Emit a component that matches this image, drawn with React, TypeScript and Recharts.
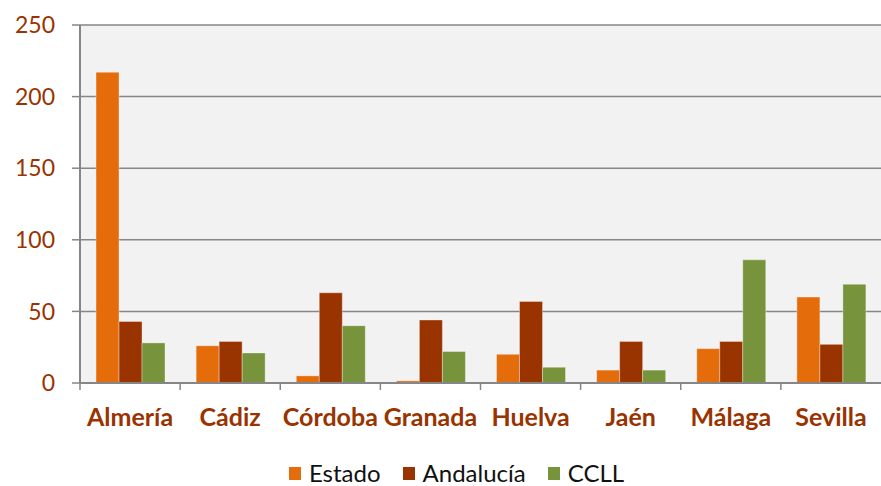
import {
  BarChart,
  Bar,
  XAxis,
  YAxis,
  CartesianGrid,
  Legend,
} from "recharts";

const provincias = ["Almería", "Cádiz", "Córdoba", "Granada", "Huelva", "Jaén", "Málaga", "Sevilla"];
const estado = [217, 26, 5, 1.5, 20, 9, 24, 60];
const andalucia = [43, 29, 63, 44, 57, 29, 29, 27];
const ccll = [28, 21, 40, 22, 11, 9, 86, 69];
const yTicks = [0, 50, 100, 150, 200, 250];

const series = [
  { key: "estado", name: "Estado", color: "#e46c0a" },
  { key: "andalucia", name: "Andalucía", color: "#993300" },
  { key: "ccll", name: "CCLL", color: "#77933c" },
];

const data = provincias.map((p, i) => ({
  name: p,
  estado: estado[i],
  andalucia: andalucia[i],
  ccll: ccll[i],
}));

const FONT = "Lato, 'Open Sans', sans-serif";
const AXIS_GRAY = "#868686";
const BAND = 801 / provincias.length;

function CategoryTick(props: any) {
  const { x, y, payload } = props;
  return (
    <g>
      <line x1={x - BAND / 2} y1={y} x2={x - BAND / 2} y2={y + 7} stroke={AXIS_GRAY} strokeWidth={1.5} />
      <text
        x={x}
        y={y + 43}
        textAnchor="middle"
        fill="#993300"
        fontFamily={FONT}
        fontWeight={700}
        fontSize={25}
      >
        {payload.value}
      </text>
    </g>
  );
}

function LegendBox() {
  return (
    <div
      style={{
        height: 30,
        boxSizing: "border-box",
        paddingTop: 4,
        display: "flex",
        justifyContent: "center",
        alignItems: "flex-start",
        fontFamily: FONT,
        fontSize: 24,
        lineHeight: "26px",
        color: "#111",
        gap: 22,
        paddingLeft: 32,
      }}
    >
      {series.map((s) => (
        <div key={s.key} style={{ display: "flex", alignItems: "center", gap: 8, height: 26 }}>
          <span style={{ width: 12, height: 13, background: s.color, display: "inline-block" }} />
          <span>{s.name}</span>
        </div>
      ))}
    </div>
  );
}

export default function App() {
  return (
    <div style={{ position: "absolute", left: 0, top: 0, background: "#fff" }}>
      <BarChart
        width={881}
        height={486}
        data={data}
        margin={{ top: 25, right: 0, left: 0, bottom: 0 }}
        barCategoryGap="16%"
        barGap={0}
      >
        <CartesianGrid vertical={false} fill="#f2f2f2" stroke={AXIS_GRAY} strokeWidth={1.5} />
        <XAxis
          dataKey="name"
          height={73}
          interval={0}
          tickLine={false}
          tickSize={0}
          tickMargin={0}
          axisLine={{ stroke: AXIS_GRAY, strokeWidth: 2 }}
          tick={<CategoryTick />}
        />
        <YAxis
          width={80}
          domain={[0, 250]}
          ticks={yTicks}
          interval={0}
          tickSize={8}
          tickMargin={17}
          tickLine={{ stroke: AXIS_GRAY, strokeWidth: 1.5 }}
          axisLine={{ stroke: AXIS_GRAY, strokeWidth: 2 }}
          tick={{ fill: "#993300", fontFamily: FONT, fontSize: 23 }}
        />
        <Legend verticalAlign="bottom" content={<LegendBox />} />
        {series.map((s) => (
          <Bar
            key={s.key}
            dataKey={s.key}
            name={s.name}
            fill={s.color}
            stroke="rgba(255,255,255,0.35)"
            strokeWidth={1}
            isAnimationActive={false}
          />
        ))}
      </BarChart>
    </div>
  );
}
